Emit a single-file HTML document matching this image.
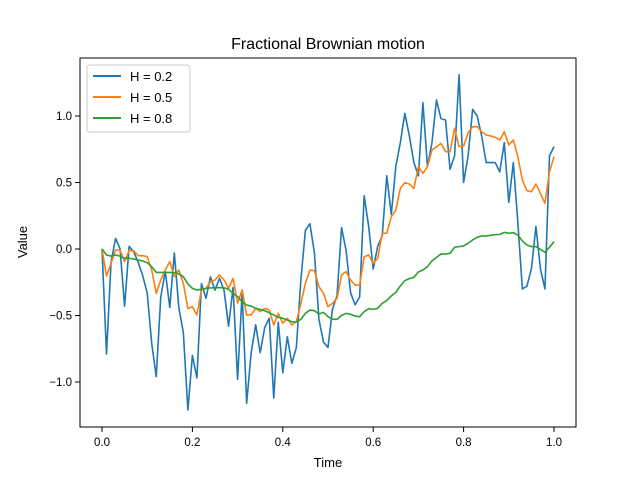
<!DOCTYPE html>
<html><head><meta charset="utf-8"><style>
body{margin:0;background:#fff;}
svg{display:block;font-family:"Liberation Sans","DejaVu Sans",sans-serif;}
</style></head><body>
<svg id="chart" width="640" height="480">
<rect x="0" y="0" width="640" height="480" fill="#fff"/>
<text x="328" y="49" text-anchor="middle" font-size="16">Fractional Brownian motion</text>
<text x="328" y="467" text-anchor="middle" font-size="13">Time</text>
<text transform="translate(27,242) rotate(-90)" text-anchor="middle" font-size="13">Value</text>
<g id="ticks"></g>
<g id="series"></g>
<rect x="80" y="58" width="496" height="369" fill="none" stroke="#000" stroke-width="1"/>
<g>
<rect x="87" y="65" width="103" height="67" rx="3" fill="#fff" fill-opacity="0.8" stroke="#ccc"/>
<g><line x1="93" y1="76" x2="121" y2="76" stroke="#1f77b4" stroke-width="2"/><text x="130" y="81" font-size="13">H = 0.2</text></g>
<g><line x1="93" y1="97" x2="121" y2="97" stroke="#ff7f0e" stroke-width="2"/><text x="130" y="102" font-size="13">H = 0.5</text></g>
<g><line x1="93" y1="118" x2="121" y2="118" stroke="#2ca02c" stroke-width="2"/><text x="130" y="123" font-size="13">H = 0.8</text></g>
</g>
</svg>
<script>
const xTicks=[0,0.2,0.4,0.6,0.8,1.0];
const xTickLabels=["0.0","0.2","0.4","0.6","0.8","1.0"];
const yTicks=[-1.0,-0.5,0,0.5,1.0];
const yTickLabels=["−1.0","−0.5","0.0","0.5","1.0"];
const seriesNames=["H = 0.2","H = 0.5","H = 0.8"];
const h02=[0,-0.79,-0.1,0.08,0.0,-0.43,0.02,-0.02,-0.1,-0.2,-0.33,-0.71,-0.96,-0.36,-0.17,-0.44,-0.03,-0.44,-0.63,-1.21,-0.8,-0.97,-0.26,-0.37,-0.21,-0.31,-0.22,-0.31,-0.58,-0.29,-0.98,-0.33,-1.16,-0.78,-0.57,-0.78,-0.59,-0.52,-1.12,-0.55,-0.93,-0.66,-0.86,-0.74,-0.23,0.14,0.19,-0.03,-0.53,-0.7,-0.74,-0.45,-0.35,0.16,-0.01,-0.33,-0.42,-0.36,0.4,0.17,-0.15,0.02,0.1,0.55,0.26,0.62,0.8,1.02,0.85,0.65,0.55,1.1,0.62,0.8,1.12,0.98,0.97,0.6,0.7,1.31,0.5,0.7,1.05,1.0,0.85,0.65,0.65,0.65,0.58,0.8,0.35,0.65,0.2,-0.3,-0.28,-0.15,0.17,-0.15,-0.3,0.7,0.77];
const h05=[0,-0.203,-0.108,-0.008,-0.008,-0.095,-0.013,-0.013,-0.05,-0.05,-0.058,-0.158,-0.333,-0.233,-0.158,-0.095,-0.208,-0.158,-0.258,-0.446,-0.434,-0.496,-0.308,-0.296,-0.246,-0.233,-0.195,-0.233,-0.296,-0.221,-0.408,-0.308,-0.496,-0.496,-0.446,-0.471,-0.446,-0.459,-0.571,-0.484,-0.559,-0.521,-0.571,-0.546,-0.408,-0.258,-0.158,-0.163,-0.283,-0.333,-0.434,-0.408,-0.371,-0.195,-0.17,-0.233,-0.271,-0.271,-0.058,-0.045,-0.108,-0.07,0.118,0.118,0.243,0.293,0.456,0.499,0.489,0.456,0.619,0.569,0.619,0.744,0.769,0.794,0.732,0.732,0.907,0.769,0.774,0.875,0.92,0.92,0.882,0.857,0.85,0.84,0.82,0.882,0.782,0.82,0.694,0.519,0.439,0.431,0.489,0.418,0.343,0.581,0.694];
const h08=[0,-0.045,-0.053,-0.045,-0.053,-0.07,-0.07,-0.075,-0.083,-0.09,-0.103,-0.133,-0.176,-0.176,-0.176,-0.176,-0.178,-0.188,-0.208,-0.263,-0.296,-0.308,-0.303,-0.296,-0.293,-0.291,-0.291,-0.291,-0.303,-0.333,-0.358,-0.396,-0.421,-0.429,-0.446,-0.454,-0.464,-0.479,-0.496,-0.514,-0.521,-0.534,-0.546,-0.549,-0.529,-0.484,-0.459,-0.464,-0.489,-0.476,-0.509,-0.529,-0.529,-0.499,-0.484,-0.491,-0.504,-0.509,-0.471,-0.449,-0.454,-0.446,-0.408,-0.388,-0.353,-0.326,-0.278,-0.238,-0.223,-0.213,-0.173,-0.158,-0.133,-0.09,-0.063,-0.038,-0.038,-0.033,0.013,0.018,0.023,0.043,0.068,0.088,0.098,0.098,0.103,0.108,0.11,0.125,0.118,0.123,0.105,0.06,0.03,0.018,0.018,-0.003,-0.025,0.013,0.055];
const colors=["#1f77b4","#ff7f0e","#2ca02c"];
const NS="http://www.w3.org/2000/svg";
function xs(v){return 102+v*452;}
function ys(v){return 249-v*133;}
const tg=document.getElementById('ticks');
xTicks.forEach((t,i)=>{
  const g=document.createElementNS(NS,'g');
  
  
  const l=document.createElementNS(NS,'line');
  l.setAttribute('x1',xs(t));l.setAttribute('x2',xs(t));l.setAttribute('y1',427);l.setAttribute('y2',432);l.setAttribute('stroke','#000');
  const tx=document.createElementNS(NS,'text');
  tx.setAttribute('x',xs(t));tx.setAttribute('y',446);tx.setAttribute('text-anchor','middle');tx.setAttribute('font-size','11.5');
  tx.textContent=xTickLabels[i];
  g.appendChild(l);g.appendChild(tx);tg.appendChild(g);
});
yTicks.forEach((t,i)=>{
  const g=document.createElementNS(NS,'g');
  
  
  const l=document.createElementNS(NS,'line');
  l.setAttribute('x1',75);l.setAttribute('x2',80);l.setAttribute('y1',ys(t));l.setAttribute('y2',ys(t));l.setAttribute('stroke','#000');
  const tx=document.createElementNS(NS,'text');
  tx.setAttribute('x',72);tx.setAttribute('y',ys(t)+4);tx.setAttribute('text-anchor','end');tx.setAttribute('font-size','11.5');
  tx.textContent=yTickLabels[i];
  g.appendChild(l);g.appendChild(tx);tg.appendChild(g);
});
const sg=document.getElementById('series');
[h02,h05,h08].forEach((arr,k)=>{
  const n=arr.length-1;
  const d=arr.map((v,i)=>(i?'L':'M')+xs(i/n).toFixed(2)+' '+ys(v).toFixed(2)).join(' ');
  const p=document.createElementNS(NS,'path');
  p.setAttribute('d',d);p.setAttribute('fill','none');p.setAttribute('stroke',colors[k]);p.setAttribute('stroke-width','1.6');p.setAttribute('stroke-linejoin','round');
  
  
  sg.appendChild(p);
});
</script>
</body></html>
